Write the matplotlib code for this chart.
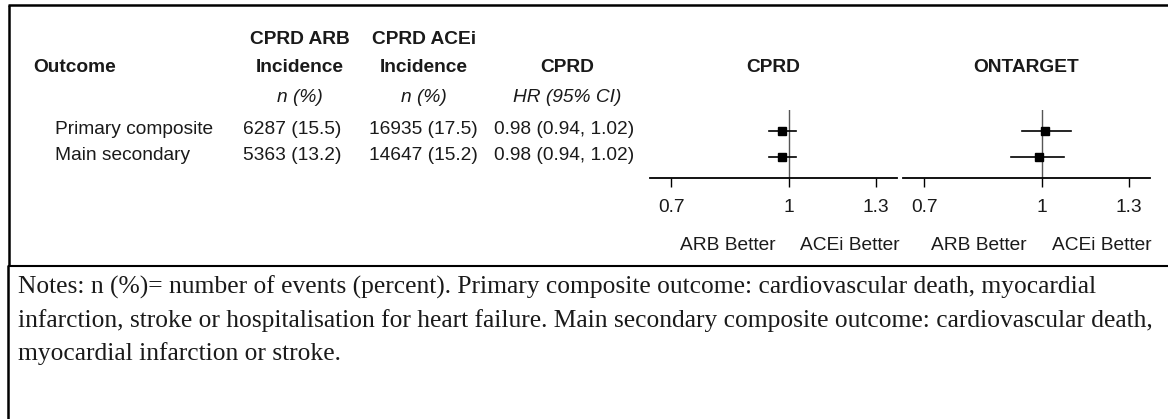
import matplotlib
matplotlib.use("Agg")
import matplotlib.pyplot as plt
from matplotlib.lines import Line2D
import matplotlib.ticker as mticker

# ---------------- data ----------------
outcomes = ["Primary composite", "Main secondary"]
arb_incidence = ["6287 (15.5)", "5363 (13.2)"]
acei_incidence = ["16935 (17.5)", "14647 (15.2)"]
cprd_hr_text = ["0.98 (0.94, 1.02)", "0.98 (0.94, 1.02)"]
cprd_hr = [0.98, 0.98]
cprd_lo = [0.94, 0.94]
cprd_hi = [1.02, 1.02]
ont_hr = [1.01, 0.99]
ont_lo = [0.94, 0.91]
ont_hi = [1.09, 1.07]
tick_vals = [0.7, 1.0, 1.3]
tick_labels = ["0.7", "1", "1.3"]
notes = [
    "Notes: n (%)= number of events (percent). Primary composite outcome: cardiovascular death, myocardial",
    "infarction, stroke or hospitalisation for heart failure. Main secondary composite outcome: cardiovascular death,",
    "myocardial infarction or stroke.",
]

W, H = 1168, 419
fig = plt.figure(figsize=(W / 100, H / 100), dpi=100)
fig.patch.set_facecolor("white")

SANS = "Liberation Sans"
SERIF = "Liberation Serif"
TXT = "#1a1a1a"
FS = 13.8


def fx(x):
    return x / W


def fy(y):
    return 1 - y / H


def ftext(x, y, s, ha="left", weight="normal", style="normal", fs=FS, family=SANS):
    fig.text(fx(x), fy(y), s, ha=ha, va="center", fontsize=fs, fontweight=weight,
             fontstyle=style, family=family, color=TXT)


# ---------------- frame lines ----------------
def fline(x0, y0, x1, y1, lw):
    fig.add_artist(Line2D([fx(x0), fx(x1)], [fy(y0), fy(y1)], transform=fig.transFigure,
                          color="black", lw=lw, solid_capstyle="butt"))


fline(7.5, 5.5, W, 5.5, 1.8)
fline(8.5, 5, 8.5, 265.5, 1.8)
fline(7.5, 265.5, W, 265.5, 1.5)
fline(7.5, 265, 7.5, H, 1.8)

# ---------------- table headers ----------------
ftext(33, 68, "Outcome", weight="bold")
ftext(300, 40, "CPRD ARB", ha="center", weight="bold")
ftext(300, 68, "Incidence", ha="center", weight="bold")
ftext(300, 97, "n (%)", ha="center", style="italic")
ftext(424, 40, "CPRD ACEi", ha="center", weight="bold")
ftext(424, 68, "Incidence", ha="center", weight="bold")
ftext(424, 97, "n (%)", ha="center", style="italic")
ftext(567, 68, "CPRD", ha="center", weight="bold")
ftext(567, 97, "HR (95% CI)", ha="center", style="italic")

row_y = [129, 156]
for i, name in enumerate(outcomes):
    ftext(55, row_y[i], name)
    ftext(292, row_y[i], arb_incidence[i], ha="center")
    ftext(423, row_y[i], acei_incidence[i], ha="center")
    ftext(564, row_y[i], cprd_hr_text[i], ha="center")

# ---------------- forest panels ----------------
ax_top, ax_bot = 110, 178
ylim = (1 - (178 - 157) / 26, 2 + (131 - 110) / 26)
xlim = (0.656, 1.387)
ypos = [2, 1]


def panel(x0, x1, title, hr, lo, hi, arb_dx, acei_dx):
    ax = fig.add_axes([fx(x0), fy(ax_bot), (x1 - x0) / W, (ax_bot - ax_top) / H])
    ax.set_xscale("log")
    ax.set_xlim(*xlim)
    ax.set_ylim(*ylim)
    ax.patch.set_alpha(0)
    for s in ["top", "left", "right"]:
        ax.spines[s].set_visible(False)
    ax.spines["bottom"].set_linewidth(1.3)
    ax.axvline(1.0, color="#555555", lw=1.0, zorder=1)
    for i in range(len(hr)):
        ax.plot([lo[i], hi[i]], [ypos[i], ypos[i]], color="black", lw=1.2, zorder=2)
        ax.plot([hr[i]], [ypos[i]], marker="s", ms=6.2, color="black", zorder=3)
    ax.xaxis.set_major_locator(mticker.FixedLocator(tick_vals))
    ax.xaxis.set_major_formatter(mticker.FixedFormatter(tick_labels))
    ax.xaxis.set_minor_locator(mticker.NullLocator())
    ax.tick_params(axis="x", direction="out", length=6.5, width=1.0, pad=8.5,
                   labelsize=FS, labelcolor=TXT)
    for lab in ax.get_xticklabels():
        lab.set_family(SANS)
    ax.set_yticks([])
    ax.annotate("ARB Better", xy=(1.0, 0), xycoords=("data", "axes fraction"),
                xytext=(-arb_dx, -68), textcoords="offset pixels", ha="right", va="center",
                fontsize=FS, family=SANS, color=TXT)
    ax.annotate("ACEi Better", xy=(1.0, 0), xycoords=("data", "axes fraction"),
                xytext=(acei_dx, -68), textcoords="offset pixels", ha="left", va="center",
                fontsize=FS, family=SANS, color=TXT)
    ftext((x0 + x1) / 2, 67, title, ha="center", weight="bold")
    return ax


panel(650, 897, "CPRD", cprd_hr, cprd_lo, cprd_hi, 13, 11)
panel(903, 1150, "ONTARGET", ont_hr, ont_lo, ont_hi, 15, 10)

# ---------------- notes ----------------
for i, line in enumerate(notes):
    ftext(18, [287, 321, 354][i], line, fs=18.4, family=SERIF)

fig.savefig("out.png", dpi=100, facecolor="white")
